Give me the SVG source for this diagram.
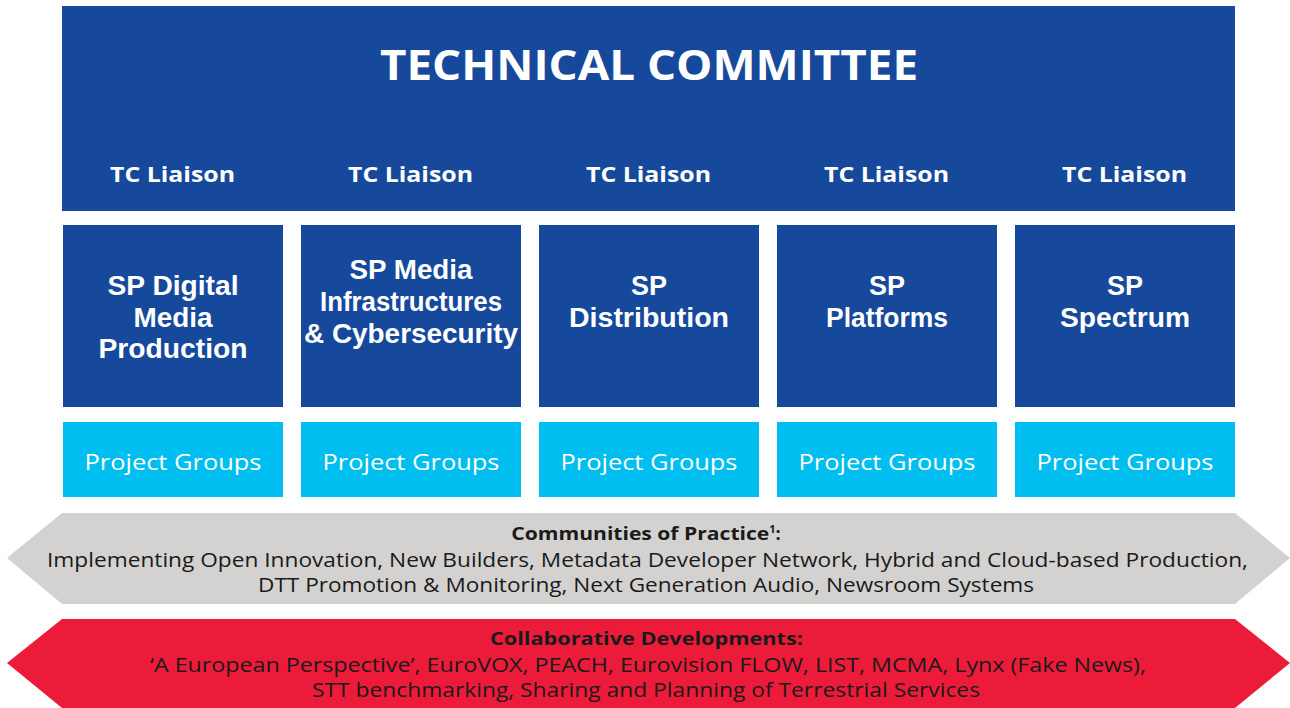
<svg xmlns="http://www.w3.org/2000/svg" width="1290" height="708" viewBox="0 0 1290 708">
<style>
.blue{fill:#16499c}
.cyan{fill:#00bff0}
.w{fill:#fff;font-family:"Open Sans","Liberation Sans",sans-serif;text-anchor:middle}
.s{fill:#fff;font-family:"Liberation Sans",Arial,sans-serif;font-weight:700;font-size:27px;text-anchor:middle}
.b{font-weight:700}
.k{fill:#1a1a1a;font-family:"Open Sans","Liberation Sans",sans-serif;text-anchor:middle}
</style>
<rect width="1290" height="708" fill="#fff"/>
<g id="tc">
<rect class="blue" x="62" y="6" width="1173" height="205"/>
<text class="w b" x="649" y="80" font-size="42" textLength="538" lengthAdjust="spacingAndGlyphs">TECHNICAL COMMITTEE</text>
<text class="w b" x="172.5" y="182" font-size="22" textLength="125" lengthAdjust="spacingAndGlyphs">TC Liaison</text>
<text class="w b" x="410.5" y="182" font-size="22" textLength="125" lengthAdjust="spacingAndGlyphs">TC Liaison</text>
<text class="w b" x="648.5" y="182" font-size="22" textLength="125" lengthAdjust="spacingAndGlyphs">TC Liaison</text>
<text class="w b" x="886.5" y="182" font-size="22" textLength="125" lengthAdjust="spacingAndGlyphs">TC Liaison</text>
<text class="w b" x="1124.5" y="182" font-size="22" textLength="125" lengthAdjust="spacingAndGlyphs">TC Liaison</text>
</g>
<g id="sp1">
<rect class="blue" x="63" y="225" width="220" height="182"/>
<text class="s" x="173" y="295" textLength="131" lengthAdjust="spacingAndGlyphs">SP Digital</text>
<text class="s" x="173" y="327" textLength="79" lengthAdjust="spacingAndGlyphs">Media</text>
<text class="s" x="173" y="358" textLength="149" lengthAdjust="spacingAndGlyphs">Production</text>
</g>
<g id="sp2">
<rect class="blue" x="301" y="225" width="220" height="182"/>
<text class="s" x="411" y="279" textLength="123" lengthAdjust="spacingAndGlyphs">SP Media</text>
<text class="s" x="411" y="311" textLength="182" lengthAdjust="spacingAndGlyphs">Infrastructures</text>
<text class="s" x="411" y="343" textLength="214" lengthAdjust="spacingAndGlyphs">&amp; Cybersecurity</text>
</g>
<g id="sp3">
<rect class="blue" x="539" y="225" width="220" height="182"/>
<text class="s" x="649" y="295" textLength="36" lengthAdjust="spacingAndGlyphs">SP</text>
<text class="s" x="649" y="327" textLength="160" lengthAdjust="spacingAndGlyphs">Distribution</text>
</g>
<g id="sp4">
<rect class="blue" x="777" y="225" width="220" height="182"/>
<text class="s" x="887" y="295" textLength="36" lengthAdjust="spacingAndGlyphs">SP</text>
<text class="s" x="887" y="327" textLength="122" lengthAdjust="spacingAndGlyphs">Platforms</text>
</g>
<g id="sp5">
<rect class="blue" x="1015" y="225" width="220" height="182"/>
<text class="s" x="1125" y="295" textLength="36" lengthAdjust="spacingAndGlyphs">SP</text>
<text class="s" x="1125" y="327" textLength="130" lengthAdjust="spacingAndGlyphs">Spectrum</text>
</g>
<g id="pg1"><rect class="cyan" x="63" y="422" width="220" height="75"/><text class="w" x="173" y="470" font-size="22" textLength="177" lengthAdjust="spacingAndGlyphs">Project Groups</text></g>
<g id="pg2"><rect class="cyan" x="301" y="422" width="220" height="75"/><text class="w" x="411" y="470" font-size="22" textLength="177" lengthAdjust="spacingAndGlyphs">Project Groups</text></g>
<g id="pg3"><rect class="cyan" x="539" y="422" width="220" height="75"/><text class="w" x="649" y="470" font-size="22" textLength="177" lengthAdjust="spacingAndGlyphs">Project Groups</text></g>
<g id="pg4"><rect class="cyan" x="777" y="422" width="220" height="75"/><text class="w" x="887" y="470" font-size="22" textLength="177" lengthAdjust="spacingAndGlyphs">Project Groups</text></g>
<g id="pg5"><rect class="cyan" x="1015" y="422" width="220" height="75"/><text class="w" x="1125" y="470" font-size="22" textLength="177" lengthAdjust="spacingAndGlyphs">Project Groups</text></g>
<g id="cop">
<polygon fill="#d3d2d0" points="7,558 62,513 1235,513 1290,558 1235,604 62,604"/>
<text class="k b" x="646" y="540" font-size="18"><tspan textLength="258" lengthAdjust="spacingAndGlyphs">Communities of Practice</tspan><tspan font-size="11" dy="-7">1</tspan><tspan dy="7">:</tspan></text>
<text class="k" x="647.5" y="567" font-size="20" textLength="1201" lengthAdjust="spacingAndGlyphs">Implementing Open Innovation, New Builders, Metadata Developer Network, Hybrid and Cloud-based Production,</text>
<text class="k" x="646" y="592" font-size="20" textLength="776" lengthAdjust="spacingAndGlyphs">DTT Promotion &amp; Monitoring, Next Generation Audio, Newsroom Systems</text>
</g>
<g id="collab">
<polygon fill="#ed1b3a" points="7,663 62,619 1235,619 1290,663 1235,708 62,708"/>
<text class="k b" x="646.5" y="645" font-size="18" textLength="313" lengthAdjust="spacingAndGlyphs">Collaborative Developments:</text>
<text class="k" x="648" y="672" font-size="20" textLength="996" lengthAdjust="spacingAndGlyphs">‘A European Perspective’, EuroVOX, PEACH, Eurovision FLOW, LIST, MCMA, Lynx (Fake News),</text>
<text class="k" x="646" y="697" font-size="20" textLength="668" lengthAdjust="spacingAndGlyphs">STT benchmarking, Sharing and Planning of Terrestrial Services</text>
</g>
<g id="connectors"></g>
</svg>
